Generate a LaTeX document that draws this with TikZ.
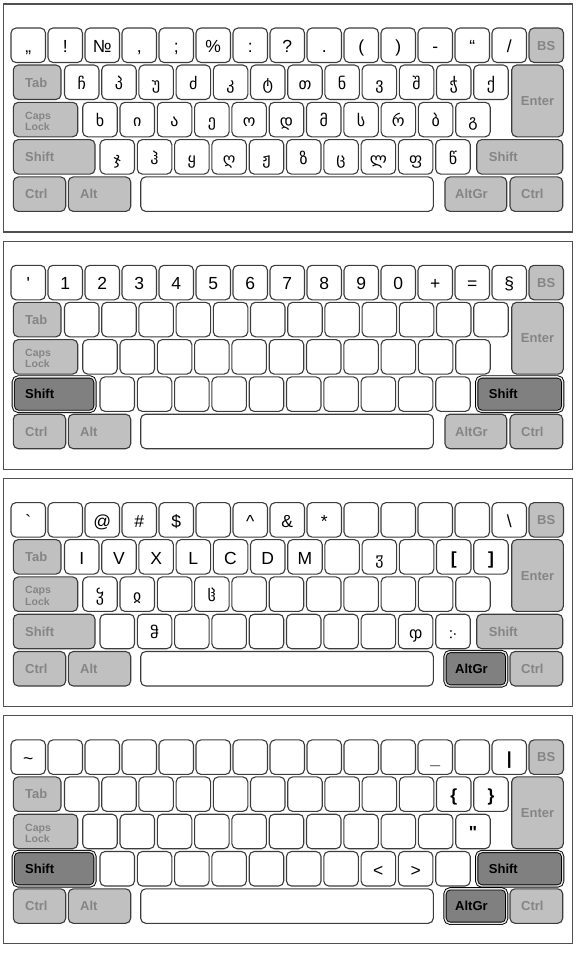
\documentclass[tikz,border=0pt]{standalone}
\usepackage{fontspec}
\newfontfamily\labfont{Liberation Sans}
\newfontfamily\geofont{DejaVu Sans}
\definecolor{keyline}{HTML}{3C3C3C}
\definecolor{modfill}{HTML}{C0C0C0}
\definecolor{modtext}{HTML}{858585}
\definecolor{actfill}{HTML}{808080}
\definecolor{frameline}{HTML}{505050}
\newcommand\ka{\geofont\fontsize{16}{18}\selectfont}
\tikzset{
  keyw/.style={draw=keyline, line width=1.1pt, fill=white, rounded corners=5pt},
  keym/.style={keyw, fill=modfill},
  keya/.style={draw=black, line width=0.9pt, double=white!80!gray, double distance=1.4pt, fill=actfill, rounded corners=5pt},
  lbl/.style={font=\labfont\fontsize{17.5}{19}\selectfont, anchor=base, inner sep=0pt, text=black},
  mlbl/.style={font=\labfont\bfseries\fontsize{13}{15}\selectfont, anchor=base west, inner sep=0pt},
  mlblc/.style={mlbl, anchor=base},
  clbl/.style={font=\labfont\bfseries\fontsize{10.5}{12}\selectfont, anchor=base west, inner sep=0pt, text=modtext},
  frame/.style={draw=frameline, line width=1.1pt},
}
\newcommand\keyrow[5]{%
  \foreach \t [count=\i from 0] in {#5} {
    \draw[keyw] (#2+\i*#3,#4) rectangle ++(34.5,34.5);
    \node[lbl] (#1\i) at (#2+\i*#3+17.25,#4+24.5) {\t};
  }}
% #1 id, #2 left shift active, #3 right shift active, #4 altgr active
\newcommand\modkeys[4]{%
  \ifnum#2=1 \def\kstyA{keya}\def\ktxA{black}\else\def\kstyA{keym}\def\ktxA{modtext}\fi
  \ifnum#3=1 \def\kstyB{keya}\def\ktxB{black}\else\def\kstyB{keym}\def\ktxB{modtext}\fi
  \ifnum#4=1 \def\kstyC{keya}\def\ktxC{black}\else\def\kstyC{keym}\def\ktxC{modtext}\fi
  \draw[keym] (529,24) rectangle ++(34.5,34.5);
  \node[mlblc, text=modtext] (#1bs) at (546.25,46) {BS};
  \draw[keym] (13.3,61) rectangle ++(47.7,34.5);
  \node[mlbl, text=modtext] (#1tab) at (25,83) {Tab};
  \draw[keym] (511.7,61) rectangle ++(51.6,71.8);
  \node[mlblc, text=modtext] (#1enter) at (537.5,101.5) {Enter};
  \draw[keym] (13.3,98.3) rectangle ++(64.4,34.5);
  \node[clbl] (#1caps) at (25,115.1) {Caps};
  \node[clbl] (#1lock) at (25,126.6) {Lock};
  \draw[\kstyA] (13.3,135.6) rectangle ++(81.7,34.5);
  \node[mlbl, text=\ktxA] (#1lsh) at (25,157.6) {Shift};
  \draw[\kstyB] (476.7,135.6) rectangle ++(86,34.5);
  \node[mlbl, text=\ktxB] (#1rsh) at (488.7,157.6) {Shift};
  \draw[keym] (13.3,172.9) rectangle ++(52.4,34.5);
  \node[mlbl, text=modtext] (#1lctrl) at (25,194.9) {Ctrl};
  \draw[keym] (68.3,172.9) rectangle ++(62.4,34.5);
  \node[mlbl, text=modtext] (#1alt) at (80,194.9) {Alt};
  \draw[keyw] (140.7,172.9) rectangle ++(292.6,34.5);
  \draw[\kstyC] (445,172.9) rectangle ++(61.7,34.5);
  \node[mlbl, text=\ktxC] (#1altgr) at (455,194.9) {AltGr};
  \draw[keym] (510,172.9) rectangle ++(52.7,34.5);
  \node[mlbl, text=modtext] (#1rctrl) at (521,194.9) {Ctrl};
}
\begin{document}
\begin{tikzpicture}[x=1pt,y=-1pt]
\useasboundingbox (0,0) rectangle (586,953);
\fill[white] (0,0) rectangle (586,953);
% ---------- panel 1: base layer
\begin{scope}[shift={(0,4)}]
  \draw[frame] (3.5,0) rectangle (572.5,228);
  \keyrow{pa}{11}{37}{24}{„,!,№,{,},;,\%,:,?,{.},{(},{)},-,“,/}
  \keyrow{pb}{64.5}{37.2}{61}{{\ka ჩ},{\ka პ},{\ka უ},{\ka ძ},{\ka კ},{\ka ტ},{\ka თ},{\ka ნ},{\ka ვ},{\ka შ},{\ka ჭ},{\ka ქ}}
  \keyrow{pc}{82.7}{37.3}{98.3}{{\ka ხ},{\ka ი},{\ka ა},{\ka ე},{\ka ო},{\ka დ},{\ka მ},{\ka ს},{\ka რ},{\ka ბ},{\ka გ}}
  \keyrow{pd}{100}{37.3}{135.6}{{\ka ჯ},{\ka ჰ},{\ka ყ},{\ka ღ},{\ka ჟ},{\ka ზ},{\ka ც},{\ka ლ},{\ka ფ},{\ka წ}}
  \modkeys{p}{0}{0}{0}
\end{scope}
% ---------- panel 2: shift layer
\begin{scope}[shift={(0,241.3)}]
  \draw[frame] (3.5,0) rectangle (572.5,228);
  \keyrow{qa}{11}{37}{24}{{\symbol{"27}},1,2,3,4,5,6,7,8,9,0,+,=,§}
  \keyrow{qb}{64.5}{37.2}{61}{{},{},{},{},{},{},{},{},{},{},{},{}}
  \keyrow{qc}{82.7}{37.3}{98.3}{{},{},{},{},{},{},{},{},{},{},{}}
  \keyrow{qd}{100}{37.3}{135.6}{{},{},{},{},{},{},{},{},{},{}}
  \modkeys{q}{1}{1}{0}
\end{scope}
% ---------- panel 3: AltGr layer
\begin{scope}[shift={(0,478.6)}]
  \draw[frame] (3.5,0) rectangle (572.5,228);
  \keyrow{ra}{11}{37}{24}{{\symbol{"60}},{},@,\#,\$,{},{\symbol{"5E}},\&,*,{},{},{},{},{\textbackslash}}
  \keyrow{rb}{64.5}{37.2}{61}{I,V,X,L,C,D,M,{},{\ka ჳ},{},{\bfseries [},{\bfseries ]}}
  \keyrow{rc}{82.7}{37.3}{98.3}{{\ka ჴ},{\ka ჲ},{},{\ka ჱ},{},{},{},{},{},{},{}}
  \keyrow{rd}{100}{37.3}{135.6}{{},{\ka ჵ},{},{},{},{},{},{},{\ka ჶ},{\ka ჻}}
  \modkeys{r}{0}{0}{1}
\end{scope}
% ---------- panel 4: Shift+AltGr layer
\begin{scope}[shift={(0,715.9)}]
  \draw[frame] (3.5,0) rectangle (572.5,228);
  \keyrow{sa}{11}{37}{24}{{\symbol{"7E}},{},{},{},{},{},{},{},{},{},{},{\bfseries\_},{},{\bfseries\symbol{"7C}}}
  \keyrow{sb}{64.5}{37.2}{61}{{},{},{},{},{},{},{},{},{},{},{\bfseries\{},{\bfseries\}}}
  \keyrow{sc}{82.7}{37.3}{98.3}{{},{},{},{},{},{},{},{},{},{},{\bfseries\symbol{"22}}}
  \keyrow{sd}{100}{37.3}{135.6}{{},{},{},{},{},{},{},<,>,{}}
  \modkeys{s}{1}{1}{1}
\end{scope}
\end{tikzpicture}
\end{document}
